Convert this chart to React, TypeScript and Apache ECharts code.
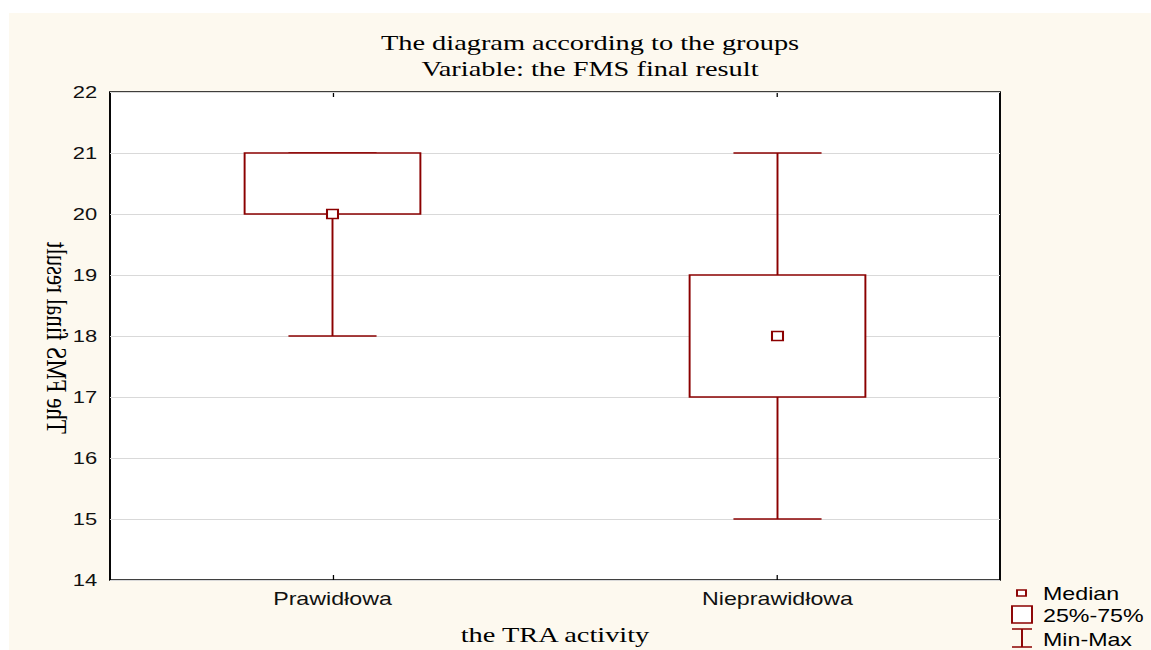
import React, { useEffect, useRef } from "react";
import * as echarts from "echarts";

// ---- data ----
const categories = ["Prawidłowa", "Nieprawidłowa"];
const minValues = [18, 15];
const q1Values = [20, 17];
const medianValues = [20, 18];
const q3Values = [21, 19];
const maxValues = [21, 21];
const titleLines = ["The diagram according to the groups", "Variable: the FMS final result"];
const yAxisName = "The FMS final result";
const xAxisName = "the TRA activity";
const legendLabels = ["Median", "25%-75%", "Min-Max"];

// horizontal stretch of the reference picture
const S = 1.29;
const W = 892;
const H = 650;
const px = (v: number) => v / S;
const RED = "#8b0000";
const SERIF = "'Liberation Serif', 'Times New Roman', serif";
const SANS = "'Liberation Sans', Arial, sans-serif";

export default function App() {
  const ref = useRef<HTMLDivElement>(null);
  useEffect(() => {
    document.body.style.margin = "0";
    document.body.style.overflow = "hidden";
    const chart = echarts.init(ref.current!, undefined, { renderer: "svg" });
    const boxData = categories.map((_, i) => [
      i,
      minValues[i],
      q1Values[i],
      medianValues[i],
      q3Values[i],
      maxValues[i],
    ]);
    const gridLeft = px(110);
    const gridRight = W - px(1000);
    const option: any = {
      animation: false,
      backgroundColor: "#ffffff",
      grid: {
        left: gridLeft,
        right: gridRight,
        top: 92,
        bottom: H - 582,
        show: true,
        backgroundColor: "#ffffff",
        borderColor: "#000000",
        borderWidth: 1.5,
      },
      xAxis: [
        {
          type: "category",
          data: categories,
          position: "bottom",
          boundaryGap: true,
          axisLine: { show: false },
          axisTick: { show: true, inside: true, alignWithLabel: true, length: 5, lineStyle: { color: "#000", width: 1 } },
          axisLabel: { fontFamily: SANS, fontSize: 18, color: "#111", margin: 9 },
          splitLine: { show: false },
          name: xAxisName,
          nameLocation: "middle",
          nameGap: 43,
          nameTextStyle: { fontFamily: SERIF, fontSize: 22, color: "#000" },
        },
        {
          type: "category",
          data: categories,
          position: "top",
          boundaryGap: true,
          axisLine: { show: false },
          axisTick: { show: true, inside: true, alignWithLabel: true, length: 5, lineStyle: { color: "#000", width: 1 } },
          axisLabel: { show: false },
          splitLine: { show: false },
        },
      ],
      yAxis: {
        type: "value",
        min: 14,
        max: 22,
        interval: 1,
        z: 2,
        axisLine: { show: false },
        axisTick: { show: false },
        axisLabel: { fontFamily: SANS, fontSize: 17, color: "#111", margin: 10 },
        splitLine: { show: true, lineStyle: { color: "#d9d9d9", width: 1 } },
      },
      series: [
        {
          type: "custom",
          xAxisIndex: 0,
          data: boxData,
          encode: { x: 0, y: [1, 2, 3, 4, 5] },
          z: 5,
          renderItem: (params: any, api: any) => {
            const idx = api.value(0);
            const pMin = api.coord([idx, api.value(1)]);
            const pQ1 = api.coord([idx, api.value(2)]);
            const pMed = api.coord([idx, api.value(3)]);
            const pQ3 = api.coord([idx, api.value(4)]);
            const pMax = api.coord([idx, api.value(5)]);
            const band = api.size([1, 0])[0];
            const boxW = band * 0.395;
            const capW = band * 0.198;
            const cx = pMed[0];
            const ls = { stroke: RED, lineWidth: 1.5, fill: null };
            return {
              type: "group",
              children: [
                { type: "line", shape: { x1: cx, y1: pQ3[1], x2: cx, y2: pMax[1] }, style: ls },
                { type: "line", shape: { x1: cx - capW / 2, y1: pMax[1], x2: cx + capW / 2, y2: pMax[1] }, style: ls },
                { type: "line", shape: { x1: cx, y1: pQ1[1], x2: cx, y2: pMin[1] }, style: ls },
                { type: "line", shape: { x1: cx - capW / 2, y1: pMin[1], x2: cx + capW / 2, y2: pMin[1] }, style: ls },
                {
                  type: "rect",
                  shape: { x: cx - boxW / 2, y: pQ3[1], width: boxW, height: pQ1[1] - pQ3[1] },
                  style: { stroke: RED, lineWidth: 1.5, fill: "#ffffff" },
                },
                {
                  type: "rect",
                  shape: { x: cx - px(11) / 2, y: pMed[1] - 4.5, width: px(11), height: 9 },
                  style: { stroke: RED, lineWidth: 1.6, fill: "#ffffff" },
                },
              ],
            };
          },
        },
      ],
      graphic: [
        {
          type: "rect",
          z: -10,
          silent: true,
          shape: { x: px(9), y: 13, width: W, height: H },
          style: { fill: "#fdf9ef" },
        },
        {
          type: "text",
          x: px(590),
          y: 42,
          style: { text: titleLines[0], font: `22px ${SERIF}`, fill: "#000", align: "center", verticalAlign: "middle" },
        },
        {
          type: "text",
          x: px(590),
          y: 68,
          style: { text: titleLines[1], font: `22px ${SERIF}`, fill: "#000", align: "center", verticalAlign: "middle" },
        },
        {
          type: "text",
          x: px(57),
          y: 338,
          rotation: Math.PI / 2,
          scaleY: -1,
          style: { text: yAxisName, font: `23px ${SERIF}`, fill: "#000", align: "center", verticalAlign: "middle" },
        },
        // legend
        {
          type: "rect",
          shape: { x: px(1017), y: 590, width: px(9), height: 6 },
          style: { stroke: RED, lineWidth: 1.5, fill: "#fff" },
        },
        {
          type: "rect",
          shape: { x: px(1012), y: 606, width: px(20), height: 17 },
          style: { stroke: RED, lineWidth: 1.5, fill: "#fff" },
        },
        {
          type: "line",
          shape: { x1: px(1012), y1: 629, x2: px(1032), y2: 629 },
          style: { stroke: RED, lineWidth: 1.5 },
        },
        {
          type: "line",
          shape: { x1: px(1012), y1: 647, x2: px(1032), y2: 647 },
          style: { stroke: RED, lineWidth: 1.5 },
        },
        {
          type: "line",
          shape: { x1: px(1022), y1: 629, x2: px(1022), y2: 647 },
          style: { stroke: RED, lineWidth: 1.5 },
        },
        ...legendLabels.map((t, i) => ({
          type: "text",
          x: px(1043),
          y: [594, 616, 640][i],
          style: { text: t, font: `18px ${SANS}`, fill: "#000", align: "left", verticalAlign: "middle" },
        })),
      ],
    };
    chart.setOption(option);
    return () => chart.dispose();
  }, []);
  return (
    <div
      ref={ref}
      style={{
        position: "absolute",
        left: 0,
        top: 0,
        width: W,
        height: H,
        transform: `scaleX(${S})`,
        transformOrigin: "0 0",
      }}
    />
  );
}
